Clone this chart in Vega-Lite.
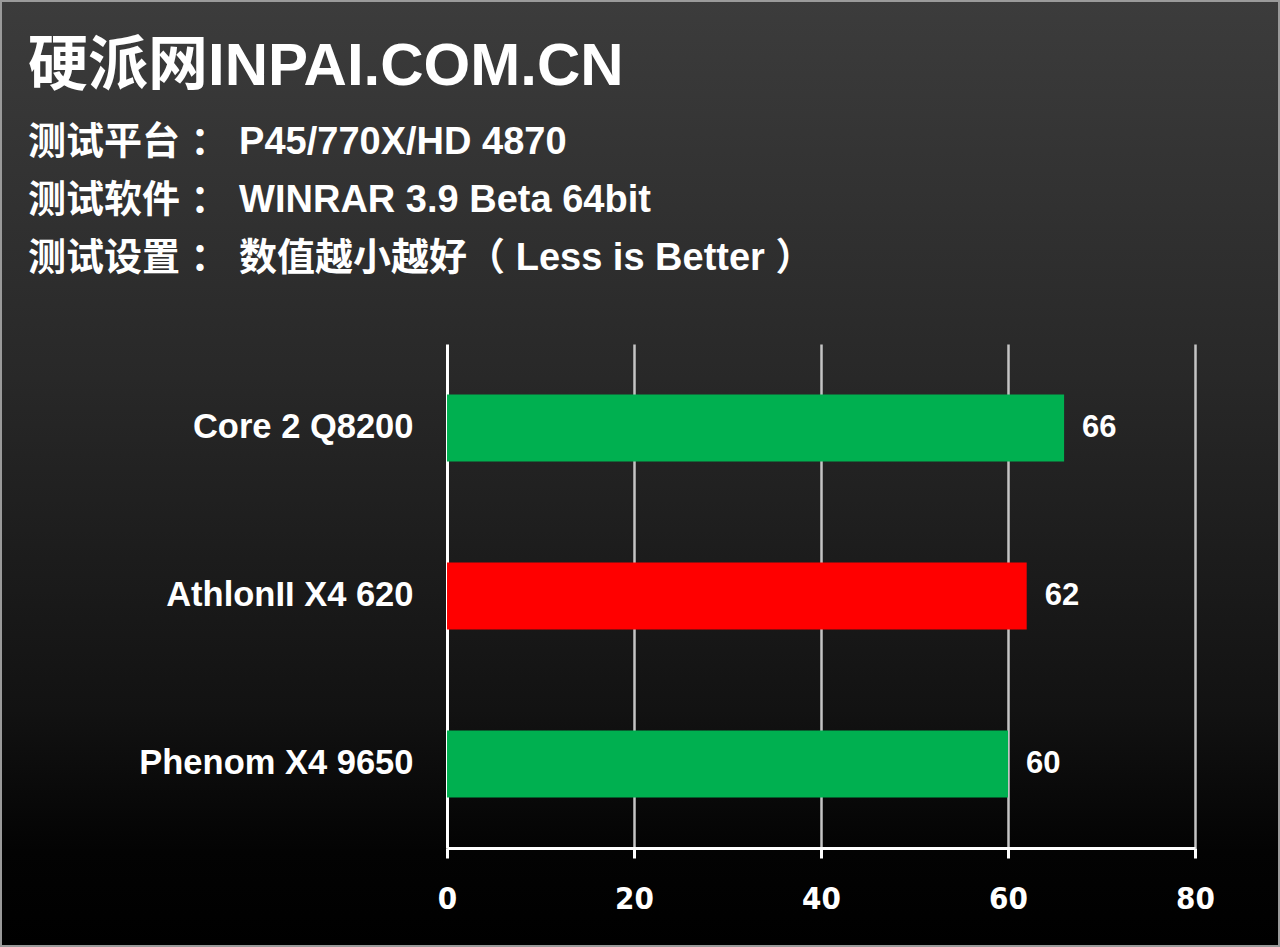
{
  "$schema": "https://vega.github.io/schema/vega-lite/v6.json",
  "width": 1280,
  "height": 947,
  "autosize": {"type": "none"},
  "padding": 0,
  "background": "#000000",
  "view": {
    "fill": {
      "gradient": "linear", "x1": 0, "y1": 0, "x2": 0, "y2": 1,
      "stops": [
        {"offset": 0, "color": "#3c3c3c"},
        {"offset": 0.4, "color": "#282828"},
        {"offset": 0.75, "color": "#121212"},
        {"offset": 0.9, "color": "#030303"},
        {"offset": 1, "color": "#000000"}
      ]
    },
    "stroke": "#9a9a9a",
    "strokeWidth": 4
  },
  "title": {
    "text": "硬派网INPAI.COM.CN",
    "subtitle": ["测试平台 ： P45/770X/HD 4870", "测试软件 ： WINRAR 3.9 Beta 64bit", "测试设置 ： 数值越小越好（ Less is Better ）"],
    "anchor": "start",
    "frame": "group",
    "dx": 28,
    "offset": -279,
    "font": "Liberation Sans, Noto Sans CJK SC",
    "fontSize": 60,
    "fontWeight": "bold",
    "color": "white",
    "subtitleFont": "Liberation Sans, Noto Sans CJK SC",
    "subtitleFontSize": 38,
    "subtitleFontWeight": "bold",
    "subtitleColor": "white",
    "subtitleLineHeight": 58,
    "subtitlePadding": 26
  },
  "data": {
    "values": [
      {"cpu": "Core 2 Q8200", "score": 66},
      {"cpu": "AthlonII X4 620", "score": 62},
      {"cpu": "Phenom X4 9650", "score": 60}
    ]
  },
  "encoding": {
    "y": {
      "field": "cpu", "type": "nominal", "sort": null,
      "scale": {"range": [344, 848], "paddingInner": 0.6, "paddingOuter": 0.3},
      "axis": {
        "title": null, "offset": -447, "ticks": false, "tickSize": 0, "labelPadding": 34, "labelLimit": 500,
        "labelFont": "Liberation Sans", "labelFontWeight": "bold", "labelFontSize": 34.5,
        "labelColor": "white", "domain": true, "domainColor": "white", "domainWidth": 3,
        "grid": false
      }
    }
  },
  "layer": [
    {
      "mark": {"type": "bar"},
      "encoding": {
        "x": {
          "field": "score", "type": "quantitative",
          "scale": {"domain": [0, 80], "range": [447, 1195]},
          "axis": {
            "title": null, "orient": "top", "values": [20, 40, 60, 80],
            "grid": true, "gridColor": "#c4c4c4", "gridWidth": 2.5,
            "domain": false, "ticks": false, "labels": false
          }
        },
        "color": {
          "field": "cpu", "type": "nominal",
          "scale": {"domain": ["Core 2 Q8200", "AthlonII X4 620", "Phenom X4 9650"], "range": ["#00b050", "#ff0000", "#00b050"]},
          "legend": null
        }
      }
    },
    {
      "mark": {"type": "text", "align": "left", "baseline": "middle", "dx": 18, "font": "Liberation Sans", "fontWeight": "bold", "fontSize": 31, "color": "white"},
      "encoding": {
        "x": {
          "field": "score", "type": "quantitative",
          "scale": {"domain": [0, 80], "range": [447, 1195]},
          "axis": {
            "title": null, "orient": "bottom", "offset": -99, "values": [0, 20, 40, 60, 80],
            "grid": false,
            "domain": true, "domainColor": "white", "domainWidth": 3,
            "ticks": true, "tickColor": "white", "tickWidth": 3, "tickSize": 10,
            "labelFlush": false, "labelOverlap": false,
            "labelPadding": 26, "labelFont": "Liberation Sans Narrow, DejaVu Sans Condensed, Liberation Sans",
            "labelFontWeight": "bold", "labelFontSize": 31, "labelColor": "white"
          }
        },
        "text": {"field": "score", "type": "quantitative"}
      }
    }
  ],
  "resolve": {"axis": {"x": "independent"}}
}
